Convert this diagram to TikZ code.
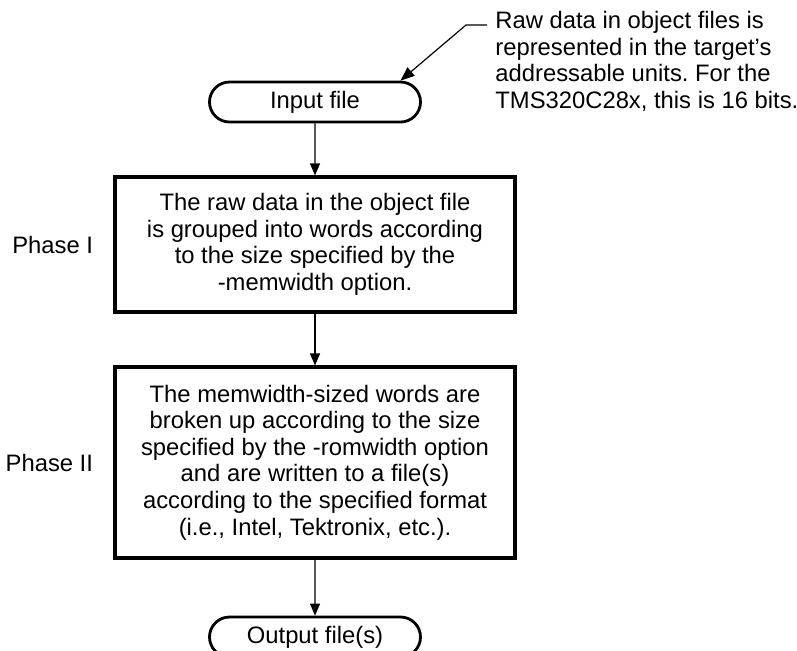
\documentclass[tikz,border=0pt]{standalone}
\usepackage{fontspec}
\setmainfont{Liberation Sans}
\frenchspacing
\usetikzlibrary{positioning,shapes.misc,arrows.meta}
\tikzset{
  txt/.style={font=\fontsize{11.9}{13.3}\selectfont},
  term/.style={txt,draw,line width=1.4pt,rounded rectangle,minimum width=105.5pt,minimum height=20pt,inner sep=0pt},
  proc/.style={txt,draw,line width=1.6pt,minimum width=200pt,align=center,inner sep=0pt},
  flow/.style={line width=0.6pt,-{Triangle[length=6pt,width=5pt]}},
}
\begin{document}
\begin{tikzpicture}[x=0.5pt,y=-0.5pt]
\useasboundingbox (0,0) rectangle (797,650);
\node[term] (in) at (315,102) {Input file};
\node[proc,minimum height=67.5pt] (p1) at (315,244.5) {The raw data in the object file\\is grouped into words according\\to the size specified by the\\-memwidth option.};
\node[proc,minimum height=95.5pt] (p2) at (315,462.5) {The memwidth-sized words are\\broken up according to the size\\specified by the -romwidth option\\and are written to a file(s)\\according to the specified format\\(i.e., Intel, Tektronix, etc.).};
\node[term] (out) at (315,637) {Output file(s)};
\node[txt,inner sep=0pt,left=10pt of p1] (ph1) {Phase I};
\node[txt,inner sep=0pt,left=10pt of p2] (ph2) {Phase II};
\node[txt,align=left,anchor=north west,inner sep=0pt] (note) at (495,11) {Raw data in object files is\\represented in the target's\\addressable units. For the\\TMS320C28x, this is 16 bits.};
\draw[flow] (in) -- (p1);
\draw[flow] (p1) -- (p2);
\draw[flow] (p2) -- (out);
% leader from the note
\coordinate (lead) at (487,25);
\coordinate (bend) at (466,25);
\draw[line width=0.6pt,-{Triangle[length=7pt,width=5.5pt]}] (lead) -- (bend) -- (in.north east);
\end{tikzpicture}
\end{document}
